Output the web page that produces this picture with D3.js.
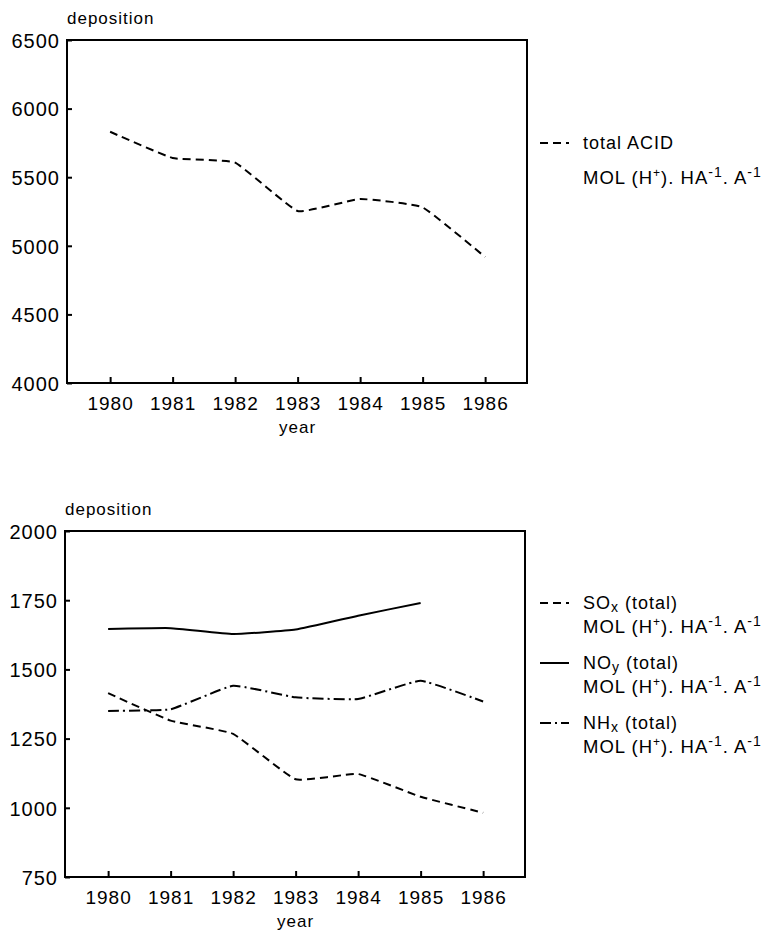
<!DOCTYPE html>
<html>
<head>
<meta charset="utf-8">
<script src="https://cdn.jsdelivr.net/npm/d3@7"></script>
<style>
  html, body { margin: 0; padding: 0; background: #fff; }
  svg { display: block; }
  text { font-family: "Liberation Sans", Arial, sans-serif; fill: #000; }
</style>
</head>
<body>
<svg id="chart" width="771" height="935"></svg>
<script>
// ---- data ----
const years = [1980, 1981, 1982, 1983, 1984, 1985, 1986];
const totalAcid = [5831, 5640, 5606, 5254, 5341, 5280, 4918];
const soxTotal = [1414, 1315, 1267, 1103, 1122, 1040, 982];
const noyYears = [1980, 1981, 1982, 1983, 1984, 1985];
const noyTotal = [1646, 1649, 1628, 1644, 1694, 1740];
const nhxTotal = [1350, 1356, 1441, 1399, 1393, 1459, 1384];
const topTicks = [4000, 4500, 5000, 5500, 6000, 6500];
const bottomTicks = [750, 1000, 1250, 1500, 1750, 2000];
const yAxisTitle = "deposition";
const xAxisTitle = "year";

const DASH = "8,5";
const DASHDOT = "11,4,2,4";

const svg = d3.select("#chart");

function panel(cfg) {
  const x = d3.scaleLinear().domain([1979.31, 1986.67]).range([cfg.left, cfg.right]);
  const y = d3.scaleLinear().domain(cfg.domain).range([cfg.bottom, cfg.top]);
  const g = svg.append("g");

  g.append("rect")
    .attr("x", cfg.left).attr("y", cfg.top)
    .attr("width", cfg.right - cfg.left).attr("height", cfg.bottom - cfg.top)
    .attr("fill", "none").attr("stroke", "#000").attr("stroke-width", 2);

  const ya = g.append("g").attr("transform", `translate(${cfg.left},0)`)
    .call(d3.axisLeft(y).tickValues(cfg.ticks).tickSize(-5).tickPadding(7).tickFormat(d3.format("d")));
  ya.select(".domain").remove();
  ya.selectAll("line").attr("stroke", "#000").attr("stroke-width", 2);
  ya.selectAll("text").attr("font-size", 20).attr("letter-spacing", 1)
    .attr("font-family", "Liberation Sans, Arial, sans-serif").attr("fill", "#000")
    .attr("dy", "0.36em");

  const xa = g.append("g").attr("transform", `translate(0,${cfg.bottom})`)
    .call(d3.axisBottom(x).tickValues(years).tickSize(-6).tickPadding(14).tickFormat(d3.format("d")));
  xa.select(".domain").remove();
  xa.selectAll("line").attr("stroke", "#000").attr("stroke-width", 2);
  xa.selectAll("text").attr("font-size", 19).attr("letter-spacing", 1)
    .attr("font-family", "Liberation Sans, Arial, sans-serif").attr("fill", "#000");

  g.append("text").attr("x", cfg.left).attr("y", cfg.top - 16)
    .attr("font-size", 17).attr("letter-spacing", 1).text(yAxisTitle);
  g.append("text").attr("x", (x(1980) + x(1986)) / 2).attr("y", cfg.bottom + 50)
    .attr("text-anchor", "middle").attr("font-size", 17).attr("letter-spacing", 1).text(xAxisTitle);

  const line = d3.line().x(d => x(d[0])).y(d => y(d[1])).curve(d3.curveCardinal.tension(0.65));
  cfg.series.forEach(s => {
    g.append("path")
      .datum(s.xs.map((yr, i) => [yr, s.values[i]]))
      .attr("d", line)
      .attr("fill", "none").attr("stroke", "#000").attr("stroke-width", 2)
      .attr("stroke-linejoin", "round")
      .attr("stroke-dasharray", s.dash || null);
  });
  return { x, y };
}

function molLabel(x, yy) {
  const t = svg.append("text").attr("x", x).attr("y", yy).attr("font-size", 18.5).attr("letter-spacing", 1);
  t.append("tspan").text("MOL (H");
  t.append("tspan").attr("dy", -7).attr("font-size", 12).text("+");
  t.append("tspan").attr("dy", 7).text("). HA");
  t.append("tspan").attr("dy", -7).attr("font-size", 14).text("-1");
  t.append("tspan").attr("dy", 7).text(". A");
  t.append("tspan").attr("dy", -7).attr("font-size", 14).text("-1");
}

function legendEntry(name, sub, rest, dash, lx, ly) {
  svg.append("line").attr("x1", lx).attr("x2", lx + 29).attr("y1", ly).attr("y2", ly)
    .attr("stroke", "#000").attr("stroke-width", 2).attr("stroke-dasharray", dash || null);
  const t = svg.append("text").attr("x", lx + 43).attr("y", ly + 6).attr("font-size", 18).attr("letter-spacing", 1);
  t.append("tspan").text(name);
  if (sub) t.append("tspan").attr("dy", 3).attr("font-size", 14).text(sub);
  if (rest) t.append("tspan").attr("dy", sub ? -3 : 0).text(rest);
}

// top panel
panel({
  left: 67, right: 527, top: 40, bottom: 383,
  domain: [4000, 6500], ticks: topTicks,
  series: [{ xs: years, values: totalAcid, dash: DASH }]
});
legendEntry("total ACID", null, null, DASH, 540, 143);
molLabel(583, 184);

// bottom panel
panel({
  left: 65, right: 525, top: 531, bottom: 877,
  domain: [750, 2000], ticks: bottomTicks,
  series: [
    { xs: years, values: soxTotal, dash: DASH },
    { xs: noyYears, values: noyTotal, dash: null },
    { xs: years, values: nhxTotal, dash: DASHDOT }
  ]
});
legendEntry("SO", "x", " (total)", DASH, 540, 603);
molLabel(583, 633);
legendEntry("NO", "y", " (total)", null, 540, 663);
molLabel(583, 693);
legendEntry("NH", "x", " (total)", DASHDOT, 540, 723);
molLabel(583, 753);
</script>
</body>
</html>
